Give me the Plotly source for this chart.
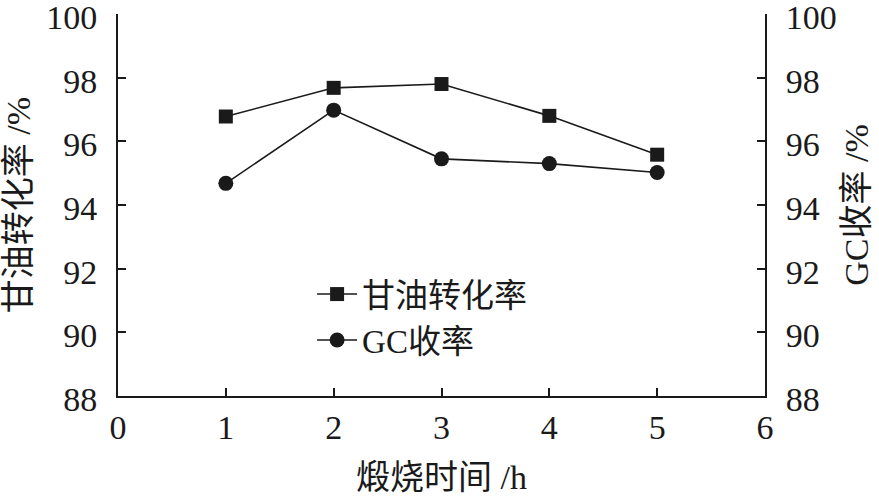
import plotly.graph_objects as go

x_vals = [1, 2, 3, 4, 5]
glycerol_conv = [96.78, 97.68, 97.8, 96.8, 95.58]
gc_yield = [94.68, 96.98, 95.45, 95.3, 95.02]
y_ticks = [88, 90, 92, 94, 96, 98, 100]
x_ticks = [0, 1, 2, 3, 4, 5, 6]

FONT = "Liberation Serif, Times New Roman, Noto Sans CJK SC, serif"
INK = "#1a1a1a"

fig = go.Figure()
fig.add_trace(go.Scatter(
    x=x_vals, y=glycerol_conv, name="甘油转化率", mode="lines+markers",
    line=dict(color=INK, width=1.6),
    marker=dict(symbol="square", size=14, color=INK),
))
fig.add_trace(go.Scatter(
    x=x_vals, y=gc_yield, name="GC收率", mode="lines+markers", yaxis="y2",
    line=dict(color=INK, width=1.6),
    marker=dict(symbol="circle", size=15, color=INK),
))

axis_common = dict(
    showgrid=False, zeroline=False, showline=True, linecolor=INK,
    linewidth=2, ticks="inside", ticklen=8, tickwidth=2, tickcolor=INK,
    tickfont=dict(family=FONT, size=34, color=INK),
    automargin=False, ticklabeloverflow="allow",
)

fig.update_layout(
    width=879, height=496,
    margin=dict(l=118, r=114, t=14, b=100),
    paper_bgcolor="white", plot_bgcolor="white",
    font=dict(family=FONT, color=INK),
    showlegend=True,
    legend=dict(x=0.30, y=0.34, xanchor="left", yanchor="top",
                bgcolor="rgba(0,0,0,0)", font=dict(family=FONT, size=33),
                itemwidth=40, tracegroupgap=0),
    xaxis=dict(range=[0, 6], tickvals=x_ticks, ticklabelstandoff=0, **axis_common,
               title=dict(text="煅烧时间 /h", font=dict(family=FONT, size=34), standoff=28)),
    yaxis=dict(range=[88, 100], tickvals=y_ticks, ticklabelstandoff=12,
               ticklabelshift=3, **axis_common,
               title=dict(text="甘油转化率 /%", font=dict(family=FONT, size=34), standoff=24)),
    yaxis2=dict(range=[88, 100], tickvals=y_ticks, overlaying="y", side="right",
                ticklabelstandoff=12, ticklabelshift=3, **axis_common,
                title=dict(text="GC收率 /%", font=dict(family=FONT, size=34), standoff=8)),
)

fig.write_html("out.html", config={"displayModeBar": False},
               post_script="document.body.style.margin='0';")
